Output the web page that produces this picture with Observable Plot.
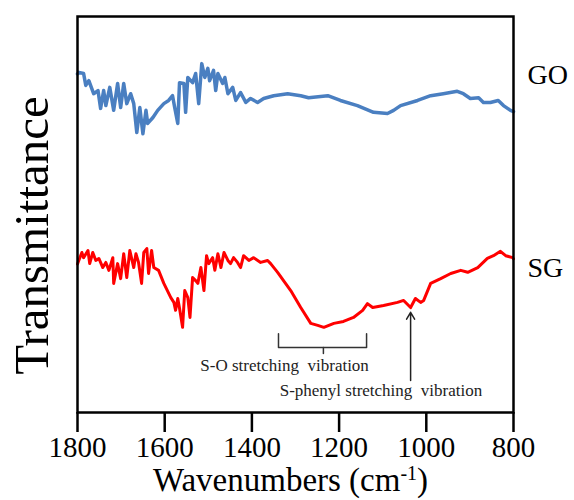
<!DOCTYPE html>
<html>
<head>
<meta charset="utf-8">
<script src="https://cdn.jsdelivr.net/npm/d3@7"></script>
<script src="https://cdn.jsdelivr.net/npm/@observablehq/plot@0.6"></script>
<style>
  html, body { margin: 0; padding: 0; background: #fff; }
  #chart svg { white-space: pre; }
  #chart svg text { font-family: "Liberation Serif", "Times New Roman", serif !important; }
</style>
</head>
<body>
<div id="chart"></div>
<script>
// GO spectrum (wavenumber cm-1, transmittance a.u.)
const goWavenumber = [1800,1797,1786,1781,1774,1763,1753,1747,1740,1735,1726,1717,1708,1701,1694,1687,1678,1671,1664,1657,1650,1643,1639,1627,1616,1602,1591,1582,1577,1570,1566,1556,1552,1547,1536,1529,1522,1515,1508,1501,1497,1488,1483,1478,1467,1462,1455,1444,1437,1426,1414,1403,1387,1373,1350,1318,1288,1270,1226,1197,1158,1121,1089,1075,1059,1020,990,961,929,915,899,880,869,853,835,823,807,800];
const goValue = [85.5,85.9,85.6,82.6,83.8,80.5,81.3,76.8,81.3,77.5,82.1,76.3,83.1,77.0,83.1,78.0,80.5,78.0,70.7,77.0,70.4,76.3,73.0,74.5,76.3,78.0,78.8,80.0,77.0,73.0,83.3,83.1,75.8,84.6,83.3,85.6,78.0,88.1,84.6,86.9,83.8,86.4,81.3,85.6,83.1,84.6,80.5,82.1,78.8,80.8,78.3,79.3,78.3,79.3,80.0,80.5,80.0,79.5,80.0,78.8,77.5,75.8,75.5,76.3,77.5,78.8,80.0,80.5,81.1,80.5,79.3,79.5,78.3,78.3,78.8,77.5,76.3,76.0];

// SG spectrum
const sgWavenumber = [1800,1797,1790,1786,1776,1772,1765,1758,1751,1742,1735,1728,1719,1717,1708,1701,1694,1687,1680,1671,1666,1660,1653,1648,1641,1637,1630,1625,1614,1602,1586,1579,1575,1570,1566,1559,1554,1547,1542,1536,1529,1524,1517,1510,1504,1499,1490,1485,1478,1471,1464,1455,1449,1442,1433,1426,1419,1407,1396,1380,1364,1357,1341,1311,1288,1265,1249,1235,1212,1190,1167,1146,1135,1123,1098,1066,1052,1036,1025,1013,1006,990,967,944,921,905,882,860,846,830,818,802,800];
const sgValue = [37.5,38.4,40.4,39.1,40.9,37.6,40.4,38.4,38.9,36.6,37.9,35.9,39.1,32.6,37.6,33.8,40.1,34.1,40.9,36.6,40.1,37.9,32.6,40.4,41.4,35.1,40.9,36.6,35.9,32.6,29.0,27.8,25.8,28.8,26.3,21.5,30.8,29.0,24.0,34.1,33.3,32.6,36.6,30.8,39.6,37.6,39.1,35.9,40.1,36.6,40.4,38.4,37.6,39.1,37.9,36.6,39.6,38.4,39.1,37.9,38.4,37.6,35.4,30.8,26.5,22.5,22.0,21.5,22.5,23.0,24.0,25.8,27.5,26.5,27.0,27.8,28.3,26.5,28.8,27.8,28.3,32.6,33.8,35.1,35.9,35.4,36.6,38.9,39.6,40.7,39.6,39.1,38.8];

const xTicks = [1800, 1600, 1400, 1200, 1000, 800];
const seriesLabels = ["GO", "SG"];
const seriesLabelValue = [85.3, 36.4];

// Annotations (data coordinates)
const soBracketX = [1339, 1339, 1137, 1137];
const soBracketY = [19.9, 16.4, 16.4, 19.9];
const soTickX = [1236, 1236];
const soTickY = [16.4, 14.9];
const soLabel = { text: "S-O stretching  vibration", x: 1325, y: 10.6 };
const phenylArrow = { x: 1036, yFrom: 8.1, yTo: 25.3 };
const phenylLabel = { text: "S-phenyl stretching  vibration", x: 1104, y: 4.2 };

const go = goWavenumber.map((w, i) => ({ w, t: goValue[i] }));
const sg = sgWavenumber.map((w, i) => ({ w, t: sgValue[i] }));
const bracket = soBracketX.map((x, i) => ({ x, y: soBracketY[i] }));
const bracketTick = soTickX.map((x, i) => ({ x, y: soTickY[i] }));
const labels = seriesLabels.map((s, i) => ({ s, y: seriesLabelValue[i] }));

const plot = Plot.plot({
  width: 574,
  height: 500,
  marginTop: 16,
  marginBottom: 88,
  marginLeft: 77,
  marginRight: 61,
  x: { domain: [1800, 800], label: null },
  y: { domain: [0, 100], label: null },
  style: { fontFamily: "'Liberation Serif', 'Times New Roman', serif", background: "#fff", color: "#000" },
  marks: [
    Plot.axisX({ ticks: xTicks, tickSize: 20, tickPadding: 4, fontSize: 29, tickFormat: d => String(d), strokeWidth: 2.5, label: null }),
    Plot.axisY({ ticks: [], label: null }),
    Plot.line(go, { x: "w", y: "t", stroke: "#4a7fc1", strokeWidth: 3.5, curve: "linear" }),
    Plot.line(sg, { x: "w", y: "t", stroke: "#ff0000", strokeWidth: 3, curve: "linear" }),
    Plot.line(bracket, { x: "x", y: "y", stroke: "#333", strokeWidth: 1.5 }),
    Plot.line(bracketTick, { x: "x", y: "y", stroke: "#333", strokeWidth: 1.5 }),
    Plot.arrow([phenylArrow], { x1: "x", y1: "yFrom", x2: "x", y2: "yTo", stroke: "#222", strokeWidth: 1.5, headLength: 8 }),
    Plot.text([soLabel], { x: "x", y: "y", text: "text", fontSize: 17, lineAnchor: "bottom", fill: "#222" }),
    Plot.text([phenylLabel], { x: "x", y: "y", text: "text", fontSize: 17, lineAnchor: "bottom", fill: "#222" }),
    Plot.text(labels, { x: () => 800, y: "y", text: "s", dx: 14, textAnchor: "start", fontSize: 28, fill: "#000" }),
    Plot.text(["Transmittance"], { frameAnchor: "left", rotate: -90, dx: -45, dy: 21, fontSize: 49, textAnchor: "middle", lineAnchor: "middle", fill: "#000" }),
    Plot.text(["Wavenumbers (cm-1)"], { frameAnchor: "bottom", dy: 68, dx: -5, fontSize: 33, textAnchor: "middle", lineAnchor: "middle", fill: "#000" }),
    Plot.frame({ stroke: "#000", strokeWidth: 2.5 })
  ]
});

// superscript "-1" in the x-axis title
d3.select(plot).selectAll("text").each(function () {
  const t = d3.select(this);
  if (t.text() === "Wavenumbers (cm-1)") {
    const tspan = t.select("tspan");
    const target = tspan.empty() ? t : tspan;
    target.text(null);
    target.append("tspan").text("Wavenumbers (cm");
    target.append("tspan").attr("baseline-shift", "super").attr("font-size", "20px").text("-1");
    target.append("tspan").text(")");
  }
});

document.getElementById("chart").appendChild(plot);
</script>
</body>
</html>
